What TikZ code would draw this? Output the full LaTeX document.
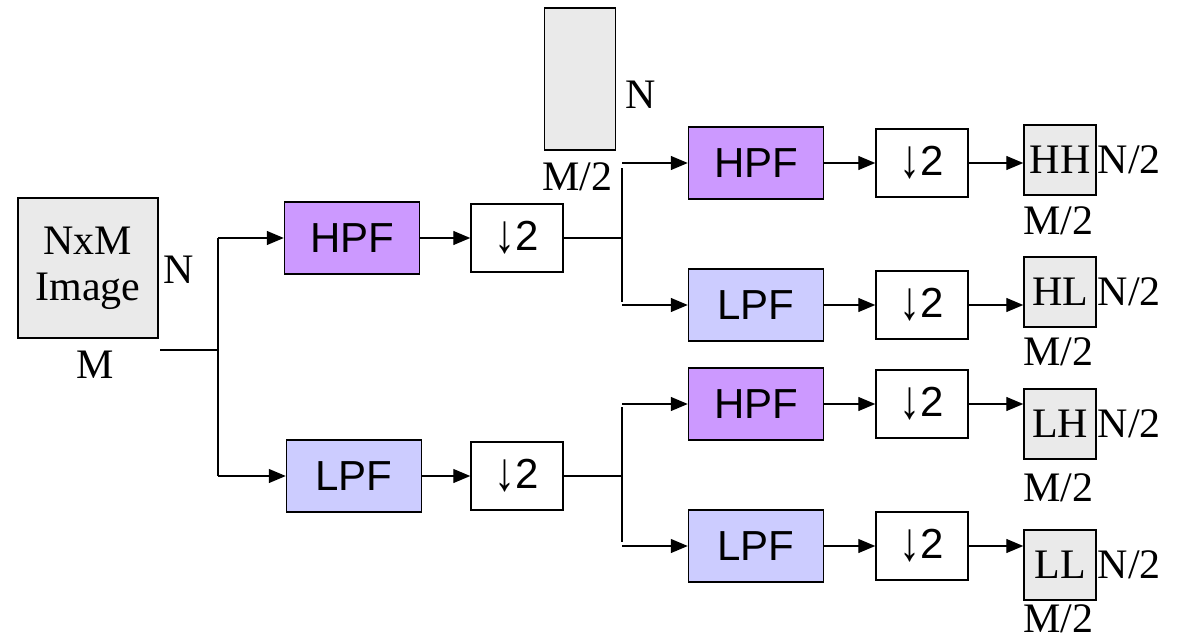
\documentclass[tikz,border=0pt]{standalone}
\usepackage{fontspec}
\setmainfont{Liberation Serif}
\setsansfont{Liberation Sans}
\usetikzlibrary{arrows.meta, positioning}

\definecolor{hpfcol}{RGB}{204,153,255}
\definecolor{lpfcol}{RGB}{204,204,255}
\definecolor{imgcol}{RGB}{234,234,234}

\newcommand{\dnsample}{\raisebox{-2pt}{\scalebox{1}[1.3]{↓}}2}

\tikzset{
  blk/.style={draw, line width=1.5pt, minimum width=135pt, minimum height=72pt, inner sep=0pt, font=\sffamily\fontsize{42}{46}\selectfont},
  hpf/.style={blk, fill=hpfcol},
  lpf/.style={blk, fill=lpfcol},
  down/.style={blk, fill=white, minimum width=92pt, minimum height=68pt},
  subimg/.style={draw, line width=1.5pt, fill=imgcol, minimum width=72pt, minimum height=70pt, inner sep=0pt, font=\fontsize{42}{46}\selectfont},
  dimlbl/.style={inner sep=0pt, font=\fontsize{42}{46}\selectfont},
  wire/.style={line width=1.3pt},
  arr/.style={wire, -{Triangle[length=17pt,width=14pt]}}
}

\begin{document}
\begin{tikzpicture}[x=1pt, y=-1pt]
  \useasboundingbox (0,0) rectangle (1180,642);

  % Eingangsbild
  \node[draw, line width=1.5pt, fill=imgcol, minimum width=140pt, minimum height=140pt, align=center, inner sep=0pt, font=\fontsize{42}{46}\selectfont] (img) at (88,268) {NxM\\Image};
  \node[dimlbl] (imgN) at (179,270) {N};
  \node[dimlbl] (imgM) at (95,365) {M};

  % erste Stufe
  \node[hpf] (hpf1) at (352,238) {HPF};
  \node[down] (dn1) at (517,238) {\dnsample};
  \node[lpf] (lpf1) at (354,476) {LPF};
  \node[down] (dn4) at (517,476) {\dnsample};

  % Zwischenbild
  \node[draw, line width=1.5pt, fill=imgcol, minimum width=71pt, minimum height=142pt, inner sep=0pt] (mid) at (580,79) {};
  \node[dimlbl] (midN) at (641,95) {N};
  \node[dimlbl] (midM) at (577,177) {M/2};

  % zweite Stufe
  \node[hpf] (hpf2) at (756,163) {HPF};
  \node[down] (dn2) at (922,163) {\dnsample};
  \node[lpf] (lpf2) at (756,305) {LPF};
  \node[down] (dn3) at (922,305) {\dnsample};
  \node[hpf] (hpf3) at (756,404) {HPF};
  \node[down] (dn5) at (922,404) {\dnsample};
  \node[lpf] (lpf3) at (756,546) {LPF};
  \node[down] (dn6) at (922,546) {\dnsample};

  % Teilbilder
  \node[subimg] (hh) at (1060,160) {HH};
  \node[subimg] (hl) at (1060,292) {HL};
  \node[subimg] (lh) at (1060,424) {LH};
  \node[subimg] (ll) at (1060,565) {LL};
  \foreach \s/\y in {hh/221, hl/352, lh/488, ll/619} {
    \node[dimlbl] (\s N) at ([xshift=1pt]\s.east) [anchor=west] {N/2};
    \node[dimlbl] (\s M) at (1058,\y) {M/2};
  }

  % Verzweigung 1
  \coordinate (s0) at (160,350);
  \coordinate (j0) at (218,350);
  \draw[wire] (s0) -- (j0);
  \draw[wire] (j0 |- hpf1) -- (j0 |- lpf1);
  \draw[arr] (j0 |- hpf1) -- (hpf1.west);
  \draw[arr] (j0 |- lpf1) -- (lpf1.west);
  \draw[arr] (hpf1) -- (dn1);
  \draw[arr] (lpf1) -- (dn4);

  % Verzweigung 2
  \coordinate (j1) at (622,238);
  \coordinate (j2) at (622,476);
  \draw[wire] (dn1.east) -- (j1);
  \draw[wire] (dn4.east) -- (j2);
  \draw[wire] ([yshift=-5pt]j1 |- hpf2) -- ([yshift=3pt]j1 |- lpf2);
  \draw[wire] ([yshift=-3pt]j2 |- hpf3) -- ([yshift=4pt]j2 |- lpf3);
  \draw[arr] (j1 |- hpf2) -- (hpf2.west);
  \draw[arr] (j1 |- lpf2) -- (lpf2.west);
  \draw[arr] (j2 |- hpf3) -- (hpf3.west);
  \draw[arr] (j2 |- lpf3) -- (lpf3.west);

  % Ausgaenge
  \draw[arr] (hpf2) -- (dn2);
  \draw[arr] (lpf2) -- (dn3);
  \draw[arr] (hpf3) -- (dn5);
  \draw[arr] (lpf3) -- (dn6);
  \draw[arr] (dn2.east) -- (dn2.east -| hh.west);
  \draw[arr] (dn3.east) -- (dn3.east -| hl.west);
  \draw[arr] (dn5.east) -- (dn5.east -| lh.west);
  \draw[arr] (dn6.east) -- (dn6.east -| ll.west);
\end{tikzpicture}
\end{document}
